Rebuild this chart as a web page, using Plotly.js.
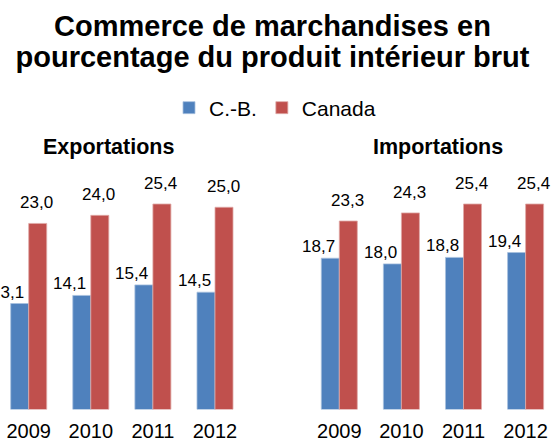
<!DOCTYPE html>
<html>
<head>
<meta charset="utf-8">
<script src="https://cdn.plot.ly/plotly-3.0.1.min.js"></script>
<style>html,body{margin:0;padding:0;background:#fff;}#chart{width:555px;height:443px;}</style>
</head>
<body>
<div id="chart"></div>
<script>
var years = ['2009', '2010', '2011', '2012'];
var seriesNames = ['C.-B.', 'Canada'];
var exportsBC = [13.1, 14.1, 15.4, 14.5];
var exportsCanada = [23.0, 24.0, 25.4, 25.0];
var importsBC = [18.7, 18.0, 18.8, 19.4];
var importsCanada = [23.3, 24.3, 25.4, 25.4];
var panelTitles = ['Exportations', 'Importations'];
var titleLines = ['Commerce de marchandises en', 'pourcentage du produit intérieur brut'];

var W = 555, H = 443;
var blue = '#4F81BD', red = '#C0504D';
var blueEdge = '#A7C0DE', redEdge = '#E0A9A7';
var fontFam = 'Liberation Sans, Arial, sans-serif';
var step = 62.1;

function fmt(v) { return v.toFixed(1).replace('.', ','); }

var traces = [
  {type:'bar', name:seriesNames[0], x:years, y:exportsBC, xaxis:'x', yaxis:'y', marker:{color:blue, line:{color:blueEdge, width:0.8}}, legendgroup:'a', hoverinfo:'none'},
  {type:'bar', name:seriesNames[1], x:years, y:exportsCanada, xaxis:'x', yaxis:'y', marker:{color:red, line:{color:redEdge, width:0.8}}, legendgroup:'b', hoverinfo:'none'},
  {type:'bar', name:seriesNames[0], x:years, y:importsBC, xaxis:'x2', yaxis:'y2', marker:{color:blue, line:{color:blueEdge, width:0.8}}, legendgroup:'a', showlegend:false, hoverinfo:'none'},
  {type:'bar', name:seriesNames[1], x:years, y:importsCanada, xaxis:'x2', yaxis:'y2', marker:{color:red, line:{color:redEdge, width:0.8}}, legendgroup:'b', showlegend:false, hoverinfo:'none'}
];

var annotations = [];
function addLabels(vals, xref, yref, isBlue) {
  vals.forEach(function(v, i) {
    annotations.push({x: i, y: v, xref: xref, yref: yref, text: fmt(v), showarrow: false,
      yanchor: 'bottom', xanchor: 'center', xshift: isBlue ? -21 : 8, yshift: isBlue ? 0 : 9,
      font: {family: fontFam, size: 17, color: '#000'}});
  });
}
addLabels(exportsBC, 'x', 'y', true);
addLabels(exportsCanada, 'x', 'y', false);
addLabels(importsBC, 'x2', 'y2', true);
addLabels(importsCanada, 'x2', 'y2', false);

annotations.push({x: 108.3 / W, y: (H - 147) / H, xref: 'paper', yref: 'paper', text: '<b>' + panelTitles[0] + '</b>',
  showarrow: false, xanchor: 'center', yanchor: 'middle', font: {family: fontFam, size: 21.5, color: '#000'}});
annotations.push({x: 437.5 / W, y: (H - 147) / H, xref: 'paper', yref: 'paper', text: '<b>' + panelTitles[1] + '</b>',
  showarrow: false, xanchor: 'center', yanchor: 'middle', font: {family: fontFam, size: 21.5, color: '#000'}});

var yDomain = [(H - 409.5) / H, (H - (409.5 - 30 * 8.09)) / H];
function xaxisDef(pxLeft, pxRight, center0) {
  return {domain: [pxLeft / W, pxRight / W], range: [(pxLeft - center0) / step, (pxRight - center0) / step],
    type: 'category', showgrid: false, zeroline: false, showline: false, ticks: '', ticklabelstandoff: 7,
    tickfont: {family: fontFam, size: 20, color: '#000'}, fixedrange: true};
}
function yaxisDef(anchor) {
  return {domain: yDomain, range: [0, 30], anchor: anchor, showgrid: false, zeroline: false, showline: false,
    showticklabels: false, ticks: '', fixedrange: true};
}

var titleText = titleLines.map(function(t) { return '<span style="font-size:29px"><b>' + t + '</b></span>'; }).join('<br>');

var layout = {
  width: W, height: H,
  margin: {l: 0, r: 0, t: 0, b: 0, pad: 0},
  paper_bgcolor: '#fff', plot_bgcolor: 'rgba(0,0,0,0)',
  barmode: 'group', bargap: 0.42, bargroupgap: 0,
  title: {text: titleText,
    x: 272.5 / W, xanchor: 'center', xref: 'paper', y: 1 - 36 / H, yanchor: 'top', yref: 'container',
    font: {family: fontFam, size: 23.6, color: '#000'}},
  showlegend: true,
  legend: {orientation: 'h', x: 275 / W, xanchor: 'center', y: (H - 108) / H, yanchor: 'middle',
    font: {family: fontFam, size: 21, color: '#000'}, bgcolor: 'rgba(0,0,0,0)', traceorder: 'normal'},
  xaxis: xaxisDef(0, 250, 28.7),
  yaxis: yaxisDef('x'),
  xaxis2: xaxisDef(290, 555, 339.3),
  yaxis2: yaxisDef('x2'),
  annotations: annotations
};
layout.xaxis.anchor = 'y';
layout.xaxis2.anchor = 'y2';

Plotly.newPlot('chart', traces, layout, {displayModeBar: false, staticPlot: true});
</script>
</body>
</html>
